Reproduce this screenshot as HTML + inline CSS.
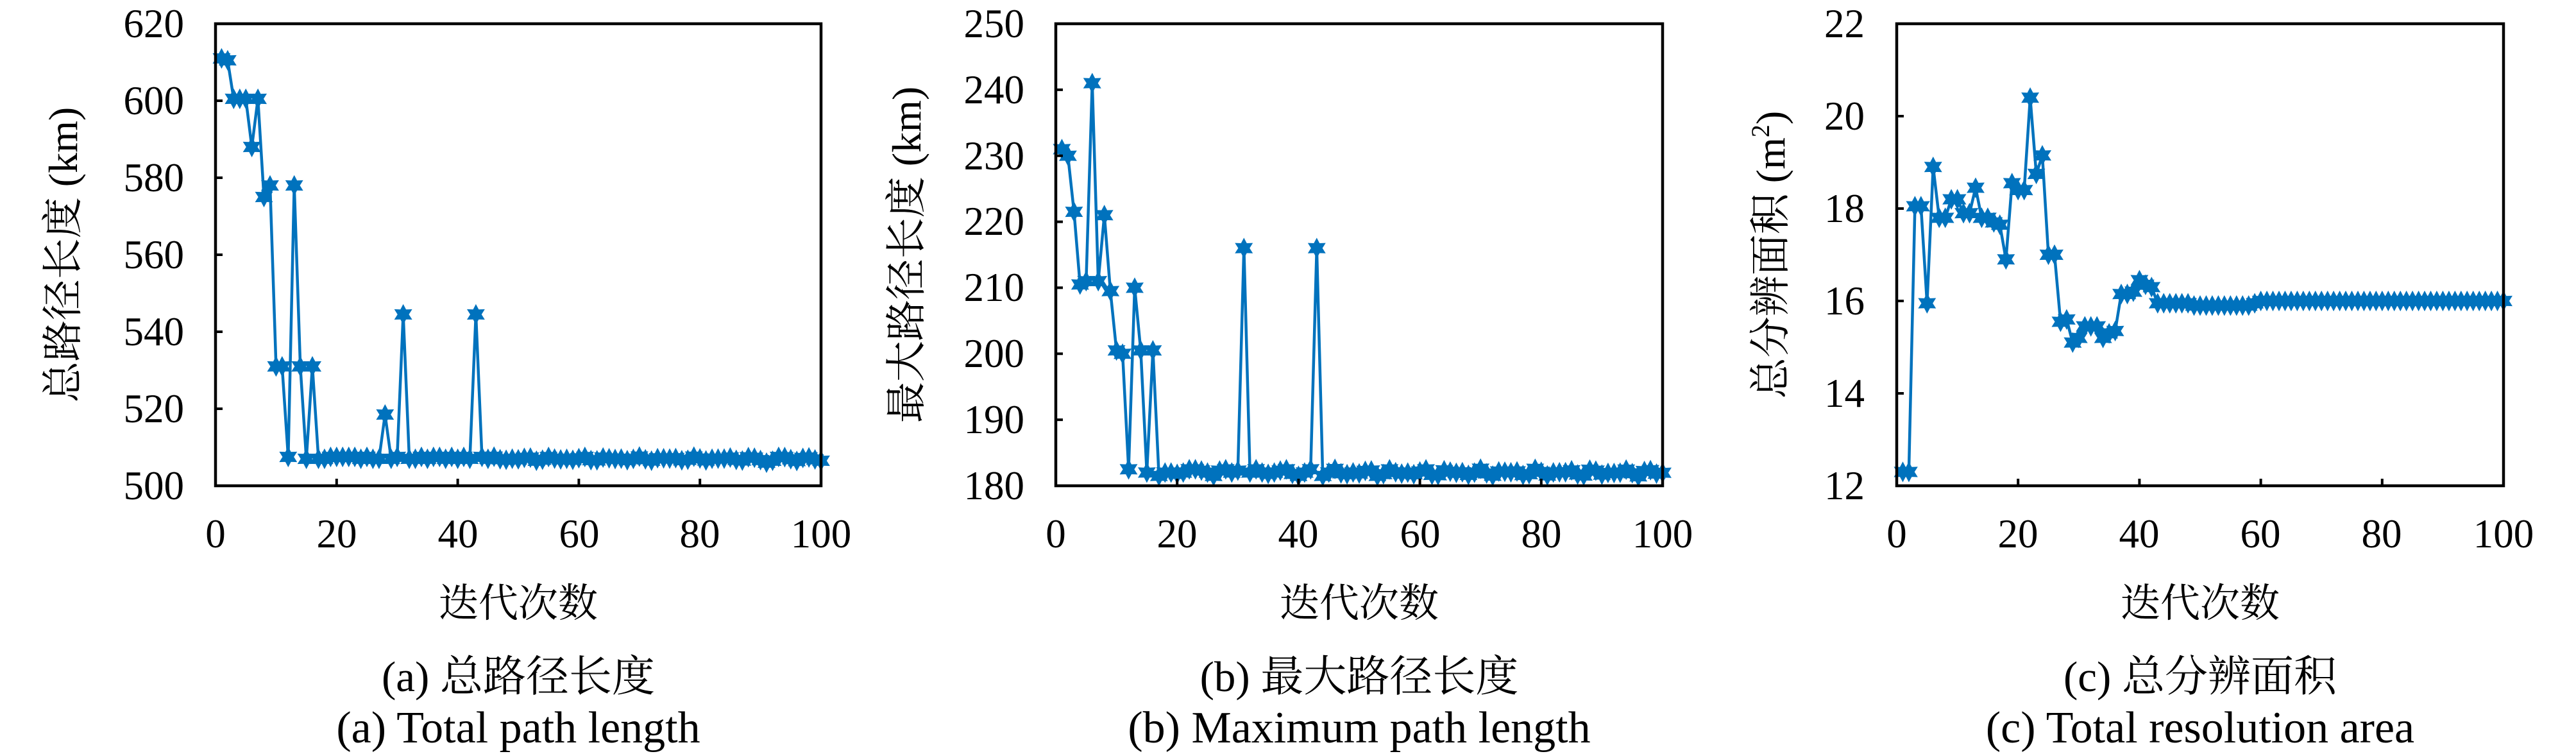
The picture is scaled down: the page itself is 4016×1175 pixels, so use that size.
<!DOCTYPE html>
<html><head><meta charset="utf-8"><style>
html,body{margin:0;padding:0;background:#fff;}
svg{display:block;}
text{font-family:"Liberation Serif","Noto Serif CJK SC","Noto Sans CJK SC",serif;fill:#000;}
</style></head><body>
<svg id="s" width="4016" height="1175" viewBox="0 0 4016 1175" xmlns="http://www.w3.org/2000/svg">
<rect width="4016" height="1175" fill="#fff"/>
<g id="plots"></g>
<!-- Panel a -->
<g font-size="63" text-anchor="end">
<text x="287" y="58">620</text><text x="287" y="178">600</text><text x="287" y="298">580</text><text x="287" y="418">560</text><text x="287" y="538">540</text><text x="287" y="658">520</text><text x="287" y="778">500</text>
</g>
<g font-size="63" text-anchor="middle">
<text x="336" y="853">0</text><text x="525" y="853">20</text><text x="714" y="853">40</text><text x="903" y="853">60</text><text x="1091" y="853">80</text><text x="1280" y="853">100</text>
<text x="808" y="961" font-size="62">迭代次数</text>
<text x="808" y="1077" font-size="67">(a) 总路径长度</text>
<text x="808" y="1157" font-size="70">(a) Total path length</text>
<text transform="translate(120,397) rotate(-90)" font-size="64">总路径长度 (km)</text>
</g>
<!-- Panel b -->
<g font-size="63" text-anchor="end">
<text x="1597" y="58">250</text><text x="1597" y="161">240</text><text x="1597" y="264">230</text><text x="1597" y="366">220</text><text x="1597" y="469">210</text><text x="1597" y="572">200</text><text x="1597" y="675">190</text><text x="1597" y="778">180</text>
</g>
<g font-size="63" text-anchor="middle">
<text x="1646" y="853">0</text><text x="1835" y="853">20</text><text x="2024" y="853">40</text><text x="2214" y="853">60</text><text x="2403" y="853">80</text><text x="2592" y="853">100</text>
<text x="2119" y="961" font-size="62">迭代次数</text>
<text x="2119" y="1077" font-size="67">(b) 最大路径长度</text>
<text x="2119" y="1157" font-size="70">(b) Maximum path length</text>
<text transform="translate(1435,397) rotate(-90)" font-size="64">最大路径长度 (km)</text>
</g>
<!-- Panel c -->
<g font-size="63" text-anchor="end">
<text x="2907" y="58">22</text><text x="2907" y="202">20</text><text x="2907" y="346">18</text><text x="2907" y="490">16</text><text x="2907" y="634">14</text><text x="2907" y="778">12</text>
</g>
<g font-size="63" text-anchor="middle">
<text x="2957" y="853">0</text><text x="3146" y="853">20</text><text x="3335" y="853">40</text><text x="3524" y="853">60</text><text x="3713" y="853">80</text><text x="3903" y="853">100</text>
<text x="3430" y="961" font-size="62">迭代次数</text>
<text x="3430" y="1077" font-size="67">(c) 总分辨面积</text>
<text x="3430" y="1157" font-size="70">(c) Total resolution area</text>
<text transform="translate(2782,397) rotate(-90)" font-size="64">总分辨面积 (m<tspan font-size="40" dy="-24">2</tspan><tspan dy="24">)</tspan></text>
</g>
</svg>
<script>
(function(){
var NS="http://www.w3.org/2000/svg",g=document.getElementById("plots");
function tail(base,amp,n){var o=[];for(var i=0;i<n;i++){o.push(base+amp*Math.sin(i*1.7)*Math.cos(i*0.37));}return o;}
var A=[611,610.5,600.5,600.5,600.5,588,600.5,575,578,531,531,507.5,578,531,507,531,507,507,507.5,507.5,507.5,507.5,507.5,507,507.5,507,507,518.5,507,507.5,544.5,507,507,507.5,507,507.5,507.5,507,507.5,507,507.5,507,544.5,507.5];
A=A.concat(tail(507,0.6,56));A[99]=506.5;A[90]=506;A[91]=506.5;A[92]=507.5;
var B=[231,230,221.5,210.5,211,241,211,221,209.5,200.5,200,182.5,210,200.5,182,200.5,181.5,182,182,181.8,182,182.5,182.5,182.3,182,181.5,182.3,182.5,182,182.3,216,182,182.5,182,181.8,182,182.3,182.5,181.8,181.5,182,182.5,216,181.5];
B=B.concat(tail(182,0.6,56));
var C=[12.3,12.3,18.05,18.05,15.95,18.9,17.8,17.8,18.2,18.2,17.9,17.9,18.45,17.8,17.8,17.7,17.65,16.9,18.55,18.4,18.4,20.4,18.75,19.15,17,17,15.55,15.6,15.1,15.2,15.45,15.45,15.45,15.2,15.3,15.35,16.15,16.15,16.2,16.45,16.35,16.3,15.95,15.95,15.95,15.95,15.95,15.95,15.9,15.9,15.9,15.9,15.9,15.9,15.9,15.9,15.9,15.9,15.95];
while(C.length<100)C.push(16);
function star(cx,cy,r){var p=[];for(var k=0;k<12;k++){var a=-Math.PI/2+k*Math.PI/6,rr=(k%2?r*0.55:r);p.push((cx+rr*Math.cos(a)).toFixed(1)+","+(cy+rr*Math.sin(a)).toFixed(1));}return p.join(" ");}
function panel(x0,x1,ymin,ymax,data,yticks){
 var y0=37,y1=757,w=x1-x0;
 function X(v){return x0+v/100*w;}function Y(v){return y1-(v-ymin)/(ymax-ymin)*(y1-y0);}
 var pts=data.map(function(v,i){return X(i+1).toFixed(1)+","+Y(v).toFixed(1);}).join(" ");
 var pl=document.createElementNS(NS,"polyline");pl.setAttribute("points",pts);pl.setAttribute("fill","none");pl.setAttribute("stroke","#0072BD");pl.setAttribute("stroke-width","4.5");pl.setAttribute("stroke-linejoin","round");g.appendChild(pl);
 data.forEach(function(v,i){var s=document.createElementNS(NS,"polygon");s.setAttribute("points",star(X(i+1),Y(v),14));s.setAttribute("fill","#0072BD");s.setAttribute("stroke","#0072BD");s.setAttribute("stroke-width","2");g.appendChild(s);});
 var d="";for(var k=1;k<5;k++){var xx=x0+k*w/5;d+="M"+xx+","+y1+"V"+(y1-11);}
 yticks.forEach(function(v){var yy=Y(v);d+="M"+x0+","+yy+"H"+(x0+11);});
 var tp=document.createElementNS(NS,"path");tp.setAttribute("d",d);tp.setAttribute("stroke","#000");tp.setAttribute("stroke-width","4");g.appendChild(tp);
 var r=document.createElementNS(NS,"rect");r.setAttribute("x",x0);r.setAttribute("y",y0);r.setAttribute("width",w);r.setAttribute("height",y1-y0);r.setAttribute("fill","none");r.setAttribute("stroke","#000");r.setAttribute("stroke-width","4.5");g.appendChild(r);
}
panel(336,1280,500,620,A,[520,540,560,580,600]);
panel(1646,2592,180,250,B,[190,200,210,220,230,240]);
panel(2957,3903,12,22,C,[14,16,18,20]);
})();
</script>
</body></html>
